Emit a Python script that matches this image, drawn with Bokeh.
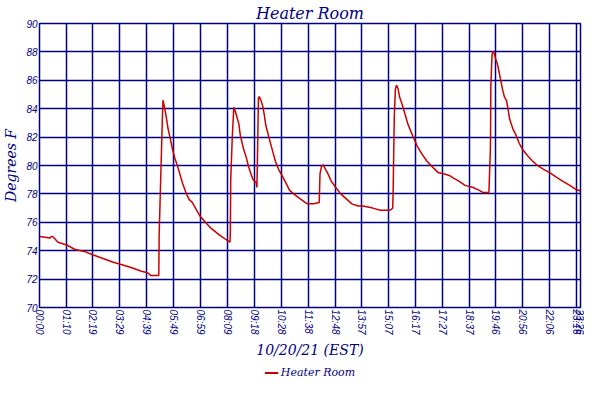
from bokeh.embed import file_html
from bokeh.resources import INLINE
from bokeh.layouts import column
from bokeh.models import Range1d, FixedTicker, Legend, LegendItem
from bokeh.plotting import figure

# Data (minutes since midnight, degrees F)
minutes = [0, 28, 30, 34, 41, 48, 71, 91, 116, 140, 165, 190, 210, 240, 265, 281, 290, 310,
           311, 314, 317, 319, 321, 323, 329, 334, 339, 346, 352, 360, 371, 382, 389, 397, 402,
           418, 431, 447, 468, 489, 495, 496, 497, 501, 505, 509, 518, 522, 530, 538, 543, 551,
           555, 563, 565, 566, 569, 571, 576, 580, 584, 588, 596, 605, 613, 621, 630, 638, 650,
           663, 675, 683, 696, 712, 727, 729, 733, 737, 741, 750, 758, 770, 783, 795, 812, 828,
           841, 866, 886, 911, 918, 919, 922, 925, 928, 932, 936, 942, 949, 957, 965, 973, 982,
           994, 1007, 1023, 1036, 1052, 1065, 1077, 1090, 1106, 1127, 1143, 1152, 1168, 1172,
           1173, 1176, 1178, 1182, 1185, 1190, 1195, 1199, 1203, 1208, 1214, 1218, 1222, 1230,
           1239, 1247, 1255, 1268, 1280, 1292, 1309, 1326, 1342, 1359, 1375, 1392, 1406]
temps = [75.0, 74.9, 75.0, 75.0, 74.8, 74.6, 74.4, 74.1, 73.95, 73.7, 73.45, 73.2, 73.05, 72.8,
         72.55, 72.45, 72.25, 72.25, 75.1, 78.1, 81.0, 83.05, 84.6, 84.35, 83.5, 82.6, 82.0,
         81.1, 80.5, 79.85, 78.8, 78.0, 77.6, 77.4, 77.15, 76.4, 76.0, 75.55, 75.1, 74.7, 74.6,
         75.3, 79.0, 82.0, 84.1, 83.8, 82.95, 82.1, 81.2, 80.5, 79.95, 79.3, 79.0, 78.8, 78.45,
         79.85, 84.75, 84.85, 84.55, 84.2, 83.6, 82.85, 82.0, 81.1, 80.3, 79.75, 79.3, 78.9,
         78.25, 77.95, 77.7, 77.55, 77.3, 77.3, 77.4, 79.4, 79.95, 80.05, 79.85, 79.4, 78.9,
         78.45, 78.0, 77.7, 77.3, 77.15, 77.15, 77.0, 76.85, 76.85, 77.0, 78.1, 83.4, 85.4,
         85.65, 85.4, 84.8, 84.35, 83.7, 82.95, 82.4, 81.9, 81.35, 80.8, 80.3, 79.85, 79.5,
         79.4, 79.3, 79.1, 78.9, 78.6, 78.45, 78.25, 78.1, 78.1, 81.35, 85.6, 87.75, 88.05,
         87.9, 87.55, 87.15, 86.5, 85.95, 85.4, 84.85, 84.55, 83.9, 83.25, 82.6, 82.1, 81.55,
         81.15, 80.7, 80.35, 80.05, 79.75, 79.5, 79.2, 78.9, 78.65, 78.35, 78.2]

tick_labels = ["00:00", "01:10", "02:19", "03:29", "04:39", "05:49", "06:59", "08:09", "09:18",
               "10:28", "11:38", "12:48", "13:57", "15:07", "16:17", "17:27", "18:37", "19:46",
               "20:56", "22:06", "23:16", "23:26"]
y_ticks = [70, 72, 74, 76, 78, 80, 82, 84, 86, 88, 90]
series_name = "Heater Room"

NAVY = "#000080"
RED = "#cc0000"
SERIF = "DejaVu Serif"
SANS = "Liberation Sans"

def to_min(s):
    h, m = s.split(":")
    return int(h) * 60 + int(m)

tick_pos = [to_min(s) for s in tick_labels]

p = figure(width=584, height=360, output_backend="svg", toolbar_location=None,
           x_range=Range1d(0, minutes[-1]), y_range=Range1d(70, 90),
           min_border_left=0, min_border_right=4, min_border_top=0, min_border_bottom=0)

p.title.text = "Heater Room"
p.title.align = "center"
p.title.text_font = SERIF
p.title.text_font_style = "italic"
p.title.text_font_size = "16px"
p.title.text_color = NAVY
p.title.standoff = 2

p.line(minutes, temps, line_color=RED, line_width=1.5)

# axes
p.xaxis.ticker = FixedTicker(ticks=tick_pos)
p.xaxis.major_label_overrides = {t: s for t, s in zip(tick_pos, tick_labels)}
p.xaxis.major_label_orientation = "vertical"
p.xaxis.axis_label = "10/20/21 (EST)"
p.yaxis.ticker = FixedTicker(ticks=y_ticks)
p.yaxis.axis_label = "Degrees F"

for ax in (p.xaxis[0], p.yaxis[0]):
    ax.major_label_text_font = SANS
    ax.major_label_text_font_style = "italic"
    ax.major_label_text_font_size = "10px"
    ax.major_label_text_color = NAVY
    ax.major_label_standoff = 2
    ax.major_tick_in = 0
    ax.major_tick_out = 0
    ax.minor_tick_line_color = None
    ax.axis_line_color = NAVY
    ax.axis_label_text_font = SERIF
    ax.axis_label_text_font_style = "italic"
    ax.axis_label_text_font_size = "14px"
    ax.axis_label_text_color = NAVY
    ax.axis_label_standoff = 4

p.grid.grid_line_color = NAVY
p.grid.grid_line_width = 1.5
p.outline_line_color = NAVY
p.outline_line_width = 1.5

# legend strip underneath the chart (its line lies outside this strip's ranges,
# so only the legend swatch and label show)
lf = figure(width=584, height=24, output_backend="svg", toolbar_location=None,
            x_axis_type=None, y_axis_type=None, min_border=0,
            x_range=Range1d(-2, -1), y_range=Range1d(0, 1))
lf.outline_line_color = None
lf.grid.visible = False
lr = lf.line(minutes, temps, line_color=RED, line_width=2)
legend = Legend(items=[LegendItem(label=series_name, renderers=[lr])],
                location="center", orientation="horizontal",
                label_text_font=SERIF, label_text_font_style="italic",
                label_text_font_size="11px", label_text_color=NAVY,
                label_height=12, glyph_width=14, glyph_height=10, label_standoff=3,
                border_line_color=None, background_fill_alpha=0,
                padding=0, margin=0, spacing=0)
lf.add_layout(legend)

open("out.html", "w").write(file_html(column(p, lf), INLINE))
